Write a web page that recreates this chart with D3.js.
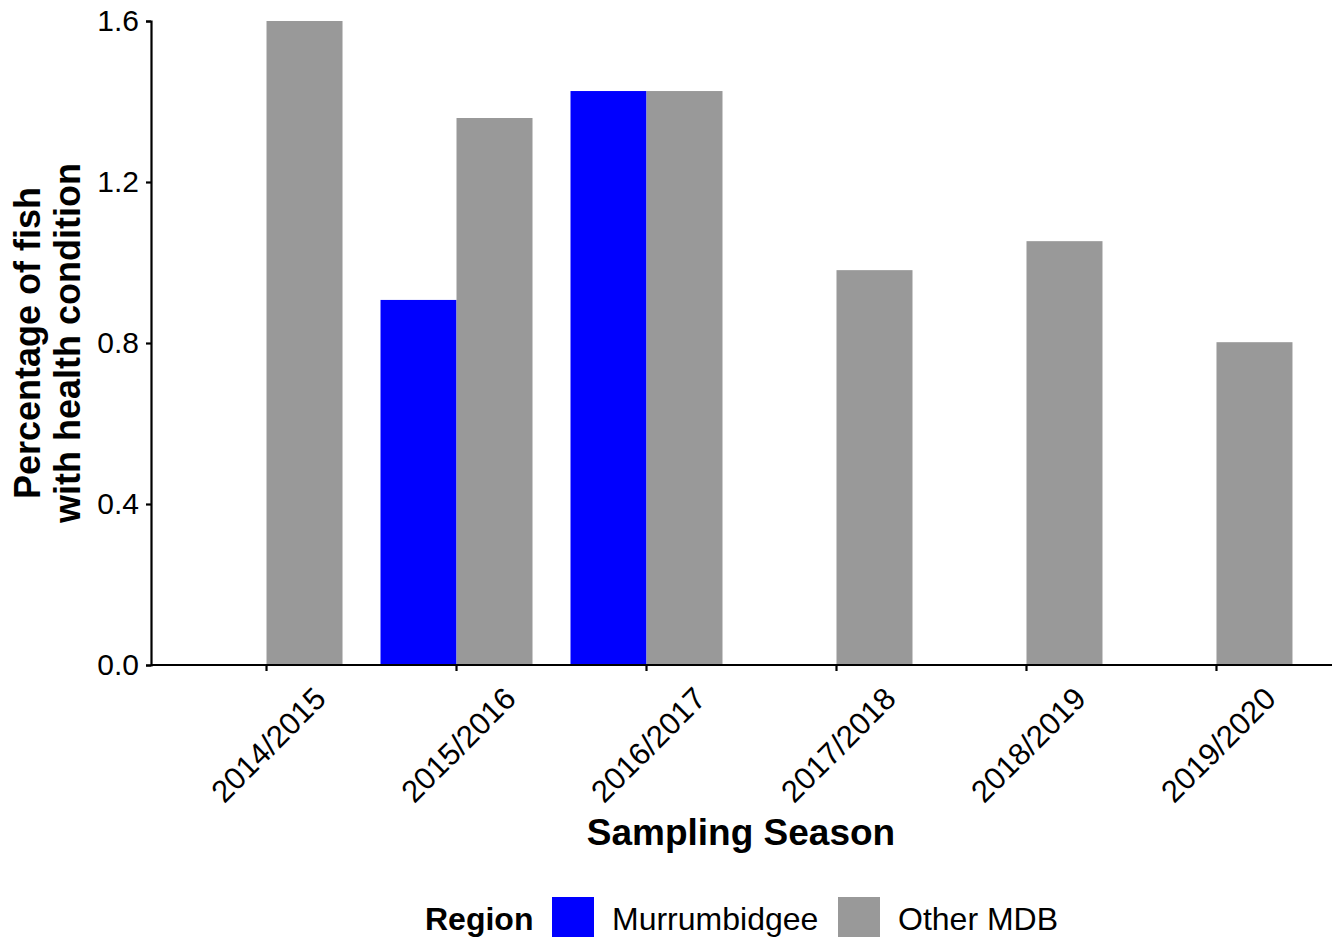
<!DOCTYPE html>
<html>
<head>
<meta charset="utf-8">
<script src="https://cdn.jsdelivr.net/npm/d3@7"></script>
<style>
  html, body { margin: 0; padding: 0; background: #ffffff; }
  svg { display: block; font-family: "Liberation Sans", Arial, sans-serif; }
</style>
</head>
<body>
<svg id="chart" width="1333" height="937"></svg>
<script>
// Sampling seasons and the share of fish with a health condition per region
const seasons = ["2014/2015", "2015/2016", "2016/2017", "2017/2018", "2018/2019", "2019/2020"];
const regions = ["Murrumbidgee", "Other MDB"];
const murrumbidgee = [null, 0.907, 1.426, null, null, null];
const otherMDB = [1.600, 1.359, 1.426, 0.981, 1.053, 0.802];
const yTicks = [0.0, 0.4, 0.8, 1.2, 1.6];
const regionColours = ["#0000ff", "#999999"];

const seriesByRegion = { "Murrumbidgee": murrumbidgee, "Other MDB": otherMDB };
const rows = [];
seasons.forEach((s, i) => {
  regions.forEach(r => {
    const v = seriesByRegion[r][i];
    if (v !== null) rows.push({ season: s, region: r, value: v });
  });
});

const svg = d3.select("#chart");
const plot = { left: 151, right: 1332, top: 21, bottom: 665 };
const FONT = "'Liberation Sans', Arial, sans-serif";

const x = d3.scaleBand()
  .domain(seasons)
  .range([plot.left, plot.right])
  .paddingInner(0.2)
  .paddingOuter(0.208);

const xInner = d3.scaleBand()
  .domain(regions)
  .range([0, x.bandwidth()]);

const y = d3.scaleLinear().domain([0, 1.6]).range([plot.bottom, plot.top]);

const colour = d3.scaleOrdinal().domain(regions).range(regionColours);

// Bars
svg.append("g")
  .selectAll("rect")
  .data(rows)
  .join("rect")
  .attr("x", d => x(d.season) + xInner(d.region))
  .attr("y", d => y(d.value))
  .attr("width", xInner.bandwidth())
  .attr("height", d => y(0) - y(d.value))
  .attr("fill", d => colour(d.region));

// Y axis
const yAxis = svg.append("g")
  .attr("transform", `translate(${plot.left},0)`)
  .call(d3.axisLeft(y).tickValues(yTicks).tickFormat(d3.format(".1f")).tickSizeOuter(0).tickSize(5).tickPadding(7));
yAxis.select(".domain").attr("stroke", "#000").attr("stroke-width", 2.2);
yAxis.selectAll(".tick line").attr("stroke", "#000").attr("stroke-width", 2.2);
yAxis.selectAll(".tick text").attr("fill", "#000")
  .style("font-size", "30px").style("font-family", FONT);

// X axis
const xAxis = svg.append("g")
  .attr("transform", `translate(0,${plot.bottom})`)
  .call(d3.axisBottom(x).tickSizeOuter(0).tickSize(6));
xAxis.select(".domain").attr("stroke", "#000").attr("stroke-width", 2.2)
  .attr("d", `M${plot.left},0H${plot.right}`);
xAxis.selectAll(".tick line").attr("stroke", "#000").attr("stroke-width", 2.2);
xAxis.selectAll(".tick text")
  .attr("fill", "#000")
  .style("font-size", "31px")
  .style("font-family", FONT)
  .attr("y", 0).attr("dy", 0)
  .attr("text-anchor", "middle")
  .attr("dominant-baseline", "central")
  .attr("transform", "translate(2,80) rotate(-45)");

// Axis titles
svg.append("text")
  .attr("x", 741)
  .attr("y", 845)
  .attr("text-anchor", "middle")
  .style("font-size", "37px")
  .style("font-weight", "bold")
  .text("Sampling Season");

const yTitle = svg.append("text")
  .attr("transform", `translate(0,${(plot.top + plot.bottom) / 2}) rotate(-90)`)
  .attr("text-anchor", "middle")
  .style("font-size", "36px")
  .style("font-weight", "bold");
yTitle.append("tspan").attr("x", 0).attr("y", 40).text("Percentage of fish");
yTitle.append("tspan").attr("x", 0).attr("y", 80).text("with health condition");

// Legend
const legend = svg.append("g");
legend.append("text")
  .attr("x", 425).attr("y", 930)
  .style("font-size", "32px").style("font-weight", "bold")
  .text("Region");
const legendItems = [
  { region: regions[0], keyX: 552, textX: 612 },
  { region: regions[1], keyX: 838, textX: 898 }
];
legend.selectAll("rect.key")
  .data(legendItems)
  .join("rect")
  .attr("class", "key")
  .attr("x", d => d.keyX).attr("y", 897)
  .attr("width", 42).attr("height", 40)
  .attr("fill", d => colour(d.region));
legend.selectAll("text.lab")
  .data(legendItems)
  .join("text")
  .attr("class", "lab")
  .attr("x", d => d.textX).attr("y", 930)
  .style("font-size", "32px")
  .text(d => d.region);
</script>
</body>
</html>
